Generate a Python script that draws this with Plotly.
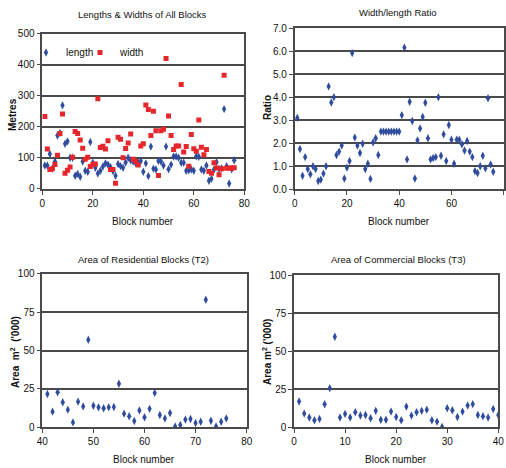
import plotly.graph_objects as go

# ---------------- data ----------------
block_all = list(range(1, 77))
length_m = [75, 75, 112, 65, 88, 172, 180, 269, 145, 153,
            100, 100, 42, 48, 39, 88, 58, 55, 151, 84,
            68, 49, 58, 72, 82, 78, 70, 57, 42, 80,
            73, 68, 85, 100, 92, 88, 82, 85, 90, 55,
            82, 41, 136, 65, 62, 90, 88, 75, 136, 63,
            78, 104, 104, 100, 84, 84, 58, 60, 62, 58,
            105, 103, 62, 58, 75, 26, 32, 62, 86, 64,
            66, 257, 73, 17, 63, 92]
width_m = [233, 128, 62, 65, 78, 108, 178, 241, 50, 60,
           70, 102, 185, 178, 157, 131, 95, 102, 72, 78,
           80, 290, 133, 137, 128, 155, 62, 62, 18, 166,
           160, 100, 130, 148, 177, 95, 88, 77, 138, 145,
           270, 256, 172, 250, 187, 43, 187, 192, 420, 235,
           172, 127, 138, 138, 336, 119, 136, 73, 175, 129,
           121, 222, 134, 110, 127, 56, 50, 84, 67, 45,
           65, 366, 66, 67, 66, 68]
ratio = [3.1, 1.74, 0.58, 1.39, 0.87, 0.64, 0.99, 0.87, 0.35, 0.41,
         0.67, 0.99, 4.47, 3.77, 4.0, 1.48, 1.63, 1.89, 0.46, 0.93,
         1.22, 5.92, 2.24, 1.89, 1.57, 1.97, 0.87, 1.10, 0.44, 2.03,
         2.21, 1.48, 2.5, 2.5, 2.5, 2.5, 2.5, 2.5, 2.5, 2.5,
         3.22, 6.16, 1.29, 3.80, 2.96, 0.46, 2.12, 2.64, 3.14, 3.76,
         2.21, 1.29, 1.35, 1.39, 4.0, 1.45, 2.38, 1.22, 2.79, 2.15,
         1.10, 2.15, 2.15, 1.95, 1.68, 2.09, 1.63, 1.39, 0.78, 0.70,
         0.99, 1.45, 0.90, 3.95, 1.07, 0.75]

block_res = list(range(41, 77))
area_res = [21.7, 10.2, 22.8, 16.3, 11.5, 3.2, 16.7, 13.6, 57, 14,
            13, 12.4, 13, 13.2, 28.4, 8.9, 7.2, 4.1, 11, 6.5,
            12, 22.4, 8, 5.8, 9.3, 0.6, 1.5, 5, 5.4, 2.8,
            3.6, 83, 4.3, 0.6, 3.6, 5.8]

block_com = list(range(1, 41))
area_com = [16.9, 9, 6.4, 4.6, 5.5, 15.1, 25.7, 59.5, 6.4, 8.8,
            6.4, 9.9, 7.7, 8.1, 5.9, 10.8, 5, 5, 10.3, 6.8,
            4.6, 13.6, 7.7, 9.9, 10.8, 11.6, 4.6, 3.7, 0.2, 12.5,
            11.2, 6.8, 10.3, 14.3, 15.2, 8.1, 7.3, 6.4, 12, 8.1]

titles = ["Lengths & Widths of All Blocks", "Width/length Ratio",
          "Area of Residential Blocks (T2)", "Area of Commercial Blocks (T3)"]

# ---------------- style ----------------
W, H = 506, 468
FONT = "Liberation Sans Narrow, Arial Narrow, Liberation Sans, Arial, sans-serif"
BLUE = "#2F4C9E"
RED = "#E5262B"
GRID = "#4A4A4A"

def px_x(p):
    return p / W

def px_y(p):
    return 1 - p / H

fig = go.Figure()

panels = [
    ("x", "y", (42.3, 244.3), (33.7, 188.8)),
    ("x2", "y2", (294.7, 503.7), (28.3, 189.0)),
    ("x3", "y3", (42.3, 246.7), (273.7, 427.3)),
    ("x4", "y4", (294.0, 498.3), (275.0, 427.3)),
]

diamond = dict(symbol="diamond-tall", size=6, color=BLUE, line=dict(width=0))
square = dict(symbol="square", size=5, color=RED, line=dict(width=0))

fig.add_trace(go.Scatter(x=block_all, y=length_m, mode="markers", name="length",
                         marker=diamond, xaxis="x", yaxis="y", legend="legend"))
fig.add_trace(go.Scatter(x=block_all, y=width_m, mode="markers", name="width",
                         marker=square, xaxis="x", yaxis="y", legend="legend2"))
fig.add_trace(go.Scatter(x=block_all, y=ratio, mode="markers", showlegend=False,
                         marker=diamond, xaxis="x2", yaxis="y2"))
fig.add_trace(go.Scatter(x=block_res, y=area_res, mode="markers", showlegend=False,
                         marker=diamond, xaxis="x3", yaxis="y3"))
fig.add_trace(go.Scatter(x=block_com, y=area_com, mode="markers", showlegend=False,
                         marker=diamond, xaxis="x4", yaxis="y4"))

x_ranges = [(0, 80, 20), (0, 80, 20), (40, 80, 10), (0, 40, 10)]
y_ranges = [(0, 500, 100, None), (0, 7, 1, ".1f"), (0, 100, 25, None), (0, 100, 25, None)]

TICKFONT = dict(family=FONT, size=10, color="#111")
LEGFONT = dict(family=FONT, size=10, color="#111")

layout = dict(
    width=W, height=H,
    margin=dict(l=0, r=0, t=0, b=0),
    paper_bgcolor="white", plot_bgcolor="white",
    font=dict(family=FONT, size=10, color="#111"),
    showlegend=True,
    legend=dict(x=px_x(26), y=px_y(38), xanchor="left", yanchor="top",
                orientation="h", bgcolor="rgba(0,0,0,0)", font=LEGFONT,
                itemwidth=30),
    legend2=dict(x=px_x(80), y=px_y(38), xanchor="left", yanchor="top",
                 orientation="h", bgcolor="rgba(0,0,0,0)", font=LEGFONT,
                 itemwidth=30),
)

annotations = []
for i, (xa, ya, (x0, x1), (yt, yb)) in enumerate(panels):
    xkey = "xaxis" if xa == "x" else "xaxis" + xa[1:]
    ykey = "yaxis" if ya == "y" else "yaxis" + ya[1:]
    xr = x_ranges[i]
    yr = y_ranges[i]
    layout[xkey] = dict(
        domain=[px_x(x0), px_x(x1)], anchor=ya, range=[xr[0], xr[1]],
        dtick=xr[2], tick0=0, showgrid=False, zeroline=False,
        showline=True, linecolor=GRID, linewidth=1.5, mirror=True,
        ticks="outside", ticklen=4, tickcolor=GRID, tickwidth=1,
        tickfont=TICKFONT, automargin=False,
    )
    ykw = dict(
        domain=[px_y(yb), px_y(yt)], anchor=xa, range=[yr[0], yr[1]],
        dtick=yr[2], tick0=0, showgrid=True, gridcolor=GRID, gridwidth=2,
        zeroline=False, showline=True, linecolor=GRID, linewidth=1.5, mirror=True,
        ticks="outside", ticklen=4, tickcolor=GRID, tickwidth=1,
        tickfont=TICKFONT, automargin=False,
    )
    if yr[3]:
        ykw["tickformat"] = yr[3]
    layout[ykey] = ykw

title_pos = [(142, 15), (398, 12), (143, 259), (398, 259)]
for t, (cx, cy) in zip(titles, title_pos):
    annotations.append(dict(text=t, x=px_x(cx), y=px_y(cy), xref="paper", yref="paper",
                            showarrow=False, xanchor="center", yanchor="middle",
                            font=dict(family=FONT, size=9.5, color="#111")))

xt_pos = [(143, 221), (399, 221), (144, 459), (396, 459)]
for cx, cy in xt_pos:
    annotations.append(dict(text="Block number", x=px_x(cx), y=px_y(cy), xref="paper",
                            yref="paper", showarrow=False, xanchor="center", yanchor="middle",
                            font=dict(family=FONT, size=10, color="#111")))

yt = [("<b>Metres</b>", 12, 115), ("<b>Ratio</b>", 267, 108),
      ("<b>Area  m<sup>2</sup>  ('000)</b>", 15, 352), ("<b>Area m<sup>2</sup> ('000)</b>", 267, 352)]
for text, cx, cy in yt:
    annotations.append(dict(text=text, x=px_x(cx), y=px_y(cy), xref="paper", yref="paper",
                            showarrow=False, textangle=-90, xanchor="center", yanchor="middle",
                            font=dict(family=FONT, size=10, color="#111")))

layout["annotations"] = annotations
fig.update_layout(**layout)
fig.write_html("out.html", config={"displayModeBar": False},
               post_script="document.body.style.margin='0';document.body.style.overflow='hidden';")
